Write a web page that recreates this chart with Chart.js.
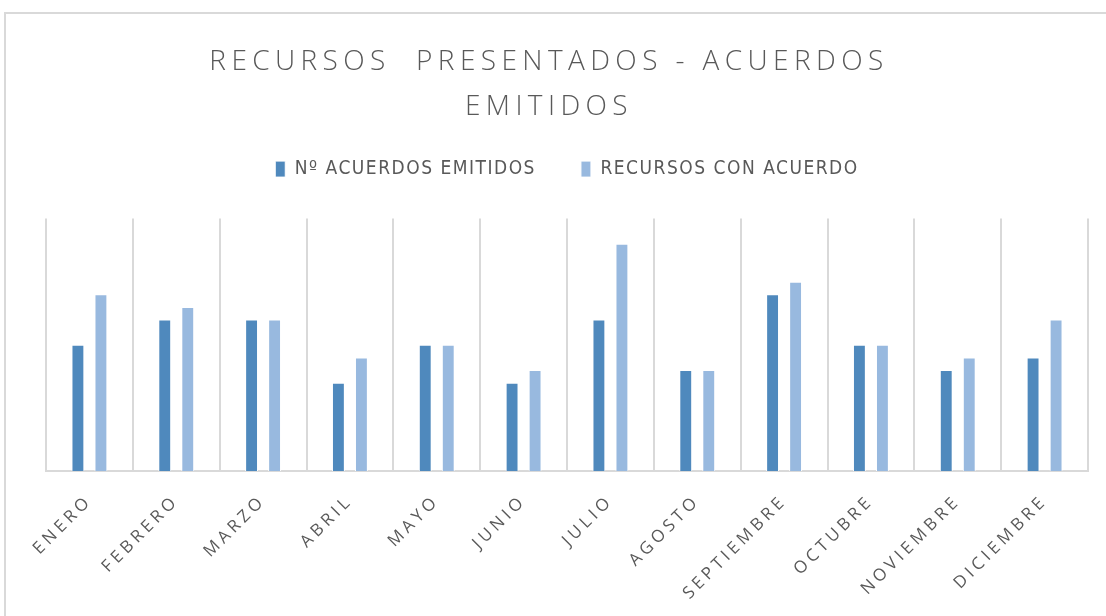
<!DOCTYPE html>
<html lang="es">
<head>
<meta charset="utf-8">
<title>Recursos presentados - Acuerdos emitidos</title>
<script src="https://cdn.jsdelivr.net/npm/chart.js@4/dist/chart.umd.min.js"></script>
<style>
  html, body { margin: 0; padding: 0; background: #fff; overflow: hidden; }
  #frame {
    position: absolute; left: 4px; top: 12px;
    width: 1120px; height: 640px;
    border: 2px solid #d9d9d9;
  }
  #wrap { position: absolute; left: 0; top: 0; width: 1106px; height: 616px; }
</style>
</head>
<body>
<div id="frame"></div>
<div id="wrap"><canvas id="chart"></canvas></div>
<script>
const months = [
  "ENERO", "FEBRERO", "MARZO", "ABRIL", "MAYO", "JUNIO",
  "JULIO", "AGOSTO", "SEPTIEMBRE", "OCTUBRE", "NOVIEMBRE", "DICIEMBRE",
];
const acuerdosEmitidos = [10, 12, 12, 7, 10, 7, 12, 8, 14, 10, 8, 9];
const recursosConAcuerdo = [14, 13, 12, 9, 10, 8, 18, 8, 15, 10, 9, 12];

const textColor = "#595959";
const lineColor = "#d9d9d9";

// wrap a method so the canvas draws/measures text with letter spacing
// (dx shifts the drawing sideways, after() tweaks the box once it is fitted)
function withSpacing(obj, method, px, dx = 0, after = null) {
  if (!obj || !obj[method] || obj["_sp_" + method]) return;
  const orig = obj[method];
  obj[method] = function (...args) {
    const ctx = this.ctx;
    ctx.save();
    ctx.letterSpacing = px;
    if (dx) ctx.translate(dx, 0);
    const res = orig.apply(this, args);
    ctx.restore();
    if (after) after(this);
    return res;
  };
  obj["_sp_" + method] = true;
}

const letterSpacing = {
  id: "letterSpacing",
  beforeLayout(chart) {
    withSpacing(chart.titleBlock, "draw", "5.4px", -18);
    withSpacing(chart.legend, "update", "1.5px", 0, (box) => { box.height += 30; });
    withSpacing(chart.legend, "draw", "1.5px");
    withSpacing(chart.scales.x, "update", "4px", 0, (box) => { box.height = 145; });
    withSpacing(chart.scales.x, "drawLabels", "4px");
  },
};

new Chart(document.getElementById("chart"), {
  type: "bar",
  data: {
    labels: months,
    datasets: [
      {
        label: "Nº ACUERDOS EMITIDOS",
        data: acuerdosEmitidos,
        backgroundColor: "#4f89bd",
        borderColor: "#ffffff",
        borderWidth: 1,
        categoryPercentage: 0.53,
        barPercentage: 0.56,
      },
      {
        label: "RECURSOS CON ACUERDO",
        data: recursosConAcuerdo,
        backgroundColor: "#98b9df",
        borderColor: "#ffffff",
        borderWidth: 1,
        categoryPercentage: 0.53,
        barPercentage: 0.56,
      },
    ],
  },
  options: {
    responsive: true,
    maintainAspectRatio: false,
    animation: false,
    layout: {
      padding: { left: 46, right: 18, top: 0, bottom: 0 },
    },
    plugins: {
      title: {
        display: true,
        text: ["RECURSOS  PRESENTADOS - ACUERDOS", "EMITIDOS"],
        color: textColor,
        font: { family: "'Open Sans', 'Liberation Sans', sans-serif", size: 28, weight: "300", lineHeight: 1.6 },
        padding: { top: 40, bottom: -15 },
      },
      legend: {
        position: "top",
        labels: {
          color: textColor,
          font: { family: "'Liberation Sans Narrow', 'DejaVu Sans Condensed', sans-serif", size: 19 },
          boxWidth: 10,
          boxHeight: 16,
          padding: 45,
        },
      },
      tooltip: { enabled: false },
    },
    scales: {
      x: {
        grid: {
          display: true,
          offset: true,
          color: lineColor,
          lineWidth: 2,
          drawTicks: false,
        },
        border: { display: true, color: lineColor, width: 2 },
        ticks: {
          color: textColor,
          font: { family: "'Open Sans', sans-serif", size: 17 },
          minRotation: 45,
          maxRotation: 45,
          padding: 20,
        },
      },
      y: {
        display: false,
        min: 0,
        max: 20,
      },
    },
  },
  plugins: [letterSpacing],
});
</script>
</body>
</html>
